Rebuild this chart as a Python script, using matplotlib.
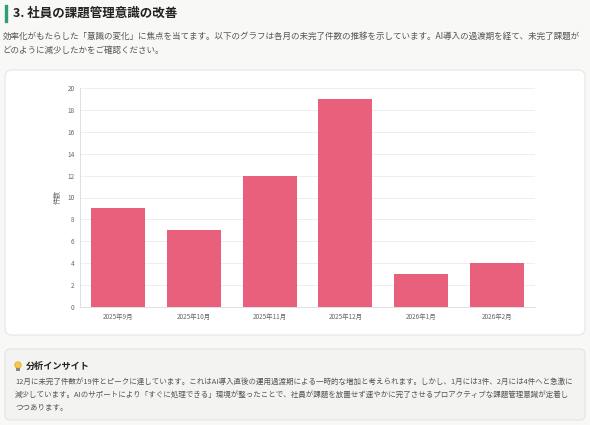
import numpy as np
import matplotlib
matplotlib.use('Agg')
import matplotlib.pyplot as plt
from matplotlib.patches import FancyBboxPatch, Rectangle, Circle

plt.rcParams['font.family'] = ['Noto Sans CJK JP', 'DejaVu Sans']

months = ['2025年9月', '2025年10月', '2025年11月', '2025年12月', '2026年1月', '2026年2月']
pending = [9, 7, 12, 19, 3, 4]
yticks = list(range(0, 21, 2))

title = '3. 社員の課題管理意識の改善'
intro = ['効率化がもたらした「意識の変化」に焦点を当てます。以下のグラフは各月の未完了件数の推移を示しています。AI導入の過渡期を経て、未完了課題が',
         'どのように減少したかをご確認ください。']
insight_title = '分析インサイト'
insight = ['12月に未完了件数が19件とピークに達しています。これはAI導入直後の運用過渡期による一時的な増加と考えられます。しかし、1月には3件、2月には4件へと急激に',
           '減少しています。AIのサポートにより「すぐに処理できる」環境が整ったことで、社員が課題を放置せず速やかに完了させるプロアクティブな課題管理意識が定着し',
           'つつあります。']

W, H = 590, 425
fig = plt.figure(figsize=(W/100, H/100), dpi=100)
fig.patch.set_facecolor('#f8f8f7')

# background layer in pixel coords
bg = fig.add_axes([0, 0, 1, 1])
bg.set_xlim(0, W)
bg.set_ylim(H, 0)
bg.axis('off')

bg.add_patch(Rectangle((5, 5), 2.2, 17, color='#2e9e6e'))
bg.text(13, 13.5, title, fontsize=9, fontweight='bold', color='#222222', va='center')
for i, line in enumerate(intro):
    bg.text(3, 36 + i*14, line, fontsize=6.15, color='#555555', va='center')

# chart card
bg.add_patch(FancyBboxPatch((5, 70), 580, 265, boxstyle='round,pad=0,rounding_size=7',
                            fc='white', ec='#e6e6e6', lw=0.8))

# insight box
bg.add_patch(FancyBboxPatch((5, 349), 580, 71, boxstyle='round,pad=0,rounding_size=5',
                            fc='#f3f3f2', ec='#e4e4e4', lw=0.8))
bg.add_patch(Circle((18, 365), 3.2, fc='#f7c948', ec='#d9a520', lw=0.5))
bg.add_patch(Rectangle((16.3, 368), 3.4, 2.6, fc='#888888'))
bg.text(26, 366, insight_title, fontsize=6.6, fontweight='bold', color='#222222', va='center')
for i, line in enumerate(insight):
    bg.text(15, 382 + i*13, line, fontsize=5.4, color='#555555', va='center')

# bar chart
ax = fig.add_axes([80/W, (H-307)/H, 455/W, 219/H])
ax.set_facecolor('white')
x = np.arange(len(months))
bars = ax.bar(x, pending, width=0.71, color='#e8607c', zorder=3)
ax.set_xlim(-0.5, len(months) - 0.5)
ax.set_ylim(0, 20)
ax.set_yticks(yticks)
ax.set_xticks(x)
ax.set_xticklabels(months)
ax.tick_params(axis='both', labelsize=4.6, labelcolor='#666666', length=0, pad=4)
ax.grid(axis='y', color='#eeeeee', lw=0.7, zorder=0)
for s in ['top', 'right']:
    ax.spines[s].set_visible(False)
for s in ['left', 'bottom']:
    ax.spines[s].set_color('#e0e0e0')
    ax.spines[s].set_linewidth(0.7)
ax.set_ylabel('件数', fontsize=5, color='#666666', labelpad=4)

fig.savefig('out.png', dpi=100, facecolor=fig.get_facecolor())
